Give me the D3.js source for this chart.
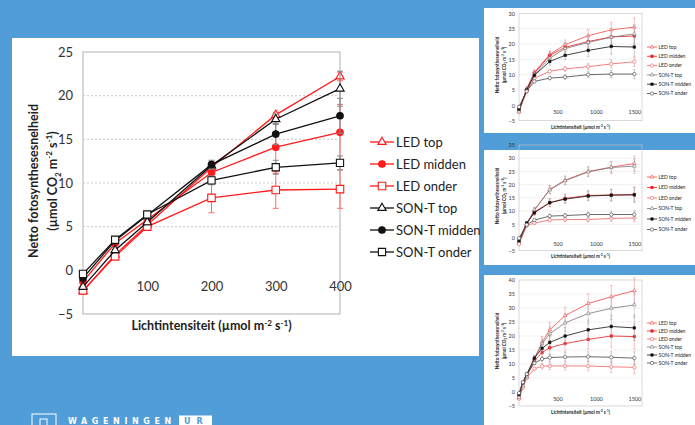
<!DOCTYPE html>
<html>
<head>
<meta charset="utf-8">
<script src="https://cdn.jsdelivr.net/npm/d3@7"></script>
<style>
  body { margin: 0; background: #509dd7; }
  svg { display: block; }
</style>
</head>
<body>
<svg id="slide" width="695" height="425"></svg>
<script>

const seriesNames = ["LED top", "LED midden", "LED onder", "SON-T top", "SON-T midden", "SON-T onder"];

// main chart (0 - 400)
const mainX = [0, 50, 100, 200, 300, 400];
const mainLedTop    = [-2.4, 1.8, 5.2, 11.8, 17.8, 22.2];
const mainLedMidden = [-1.3, 3.1, 5.8, 11.2, 14.1, 15.8];
const mainLedOnder  = [-2.3, 1.6, 5.0, 8.3, 9.2, 9.3];
const mainSonTop    = [-1.9, 2.3, 5.5, 12.0, 17.3, 20.8];
const mainSonMidden = [-0.9, 3.4, 6.3, 12.1, 15.6, 17.7];
const mainSonOnder  = [-0.4, 3.5, 6.4, 10.3, 11.8, 12.3];

const mainErrLedTop    = [0.2, 0.3, 0.3, 0.4, 0.3, 0.5];
const mainErrLedMidden = [0.3, 0.3, 0.4, 0.8, 3.0, 3.2];
const mainErrLedOnder  = [0.3, 0.3, 0.3, 1.7, 2.1, 2.2];
const mainErrSonTop    = [0.2, 0.3, 0.3, 0.4, 0.6, 2.0];
const mainErrSonMidden = [0.2, 0.3, 0.3, 0.5, 1.2, 2.0];
const mainErrSonOnder  = [0.2, 0.3, 0.3, 0.5, 0.8, 0.8];

const mainYTicks = [-5, 0, 5, 10, 15, 20, 25];
const mainXTicks = [100, 200, 300, 400];

// small chart 1
const smallX = [0, 100, 200, 400, 600, 900, 1200, 1500];
const s1LedTop    = [-2.0, 5.5, 10.8, 16.6, 19.8, 22.7, 24.6, 25.5];
const s1LedMidden = [-1.5, 5.0, 10.5, 16.3, 18.9, 20.8, 22.3, 22.6];
const s1LedOnder  = [-2.2, 4.5, 8.8, 11.1, 11.9, 12.6, 13.5, 14.2];
const s1SonTop    = [-1.8, 5.2, 10.0, 15.4, 18.5, 20.5, 22.2, 23.3];
const s1SonMidden = [-1.2, 5.0, 9.8, 14.3, 16.3, 17.9, 19.2, 19.0];
const s1SonOnder  = [-0.5, 4.6, 7.8, 8.9, 9.2, 10.0, 10.2, 10.2];
const s1Err       = [0.4, 0.5, 0.8, 1.2, 1.5, 2.0, 2.5, 3.0];

// small chart 2
const s2LedTop    = [-2.2, 4.8, 10.3, 18.2, 21.7, 25.0, 26.6, 28.0];
const s2LedMidden = [-1.8, 5.3, 9.7, 13.1, 14.8, 15.9, 16.1, 16.3];
const s2LedOnder  = [-2.5, 4.5, 5.5, 6.6, 6.8, 6.8, 7.2, 7.4];
const s2SonTop    = [-1.5, 5.0, 10.5, 18.0, 21.5, 24.8, 26.5, 27.0];
const s2SonMidden = [-1.2, 5.5, 9.3, 13.2, 14.5, 15.7, 16.0, 16.1];
const s2SonOnder  = [-0.3, 4.8, 6.6, 8.1, 8.3, 8.7, 8.7, 8.7];
const s2Err       = [0.4, 0.6, 1.0, 1.5, 1.6, 1.8, 2.2, 2.8];

// small chart 3
const s3X = [0, 50, 100, 200, 300, 400, 600, 900, 1200, 1500];
const s3LedTop    = [-2.4, 1.8, 5.2, 11.8, 17.8, 22.2, 27.3, 31.6, 34.0, 36.2];
const s3LedMidden = [-1.3, 3.1, 5.8, 11.2, 14.1, 15.8, 17.3, 18.8, 20.0, 19.8];
const s3LedOnder  = [-2.3, 1.6, 5.0, 8.3, 9.2, 9.3, 9.3, 9.3, 9.0, 8.8];
const s3SonTop    = [-1.9, 2.3, 5.5, 12.0, 17.3, 20.8, 24.7, 28.0, 29.9, 31.1];
const s3SonMidden = [-0.9, 3.4, 6.3, 12.1, 15.6, 17.7, 20.0, 22.2, 23.4, 22.9];
const s3SonOnder  = [-0.4, 3.5, 6.4, 10.3, 11.8, 12.3, 12.5, 12.6, 12.4, 12.1];
const s3Err       = [0.3, 0.4, 0.5, 1.0, 2.0, 2.5, 3.0, 3.5, 4.0, 4.5];

const smallXTicks = [500, 1000, 1500];

const svg = d3.select("#slide");
const font = "Lato, 'Open Sans', sans-serif";

svg.append("rect").attr("width", 695).attr("height", 425).attr("fill", "#509dd7");


const buildSeries = (lists, errs, styles) =>
  seriesNames.map((name, i) => ({ name, values: lists[i], errors: errs[i], style: styles[i] }));

const mainStyles = [
  { color: "#ff1a1a", bar: "#ff6b6b", symbol: d3.symbolTriangle, size: 30, fill: "white" },
  { color: "#ff1a1a", bar: "#ff6b6b", symbol: d3.symbolCircle, size: 34, fill: "#ff1a1a" },
  { color: "#ff1a1a", bar: "#ff6b6b", symbol: d3.symbolSquare, size: 56, fill: "white" },
  { color: "#111", bar: "#888", symbol: d3.symbolTriangle, size: 30, fill: "white" },
  { color: "#111", bar: "#888", symbol: d3.symbolCircle, size: 34, fill: "#111" },
  { color: "#111", bar: "#888", symbol: d3.symbolSquare, size: 52, fill: "white" }
];

const smallStyles = [
  { color: "#f04545", bar: "#f08080", symbol: d3.symbolTriangle, size: 6, fill: "white" },
  { color: "#e81e1e", bar: "#f08080", symbol: d3.symbolSquare, size: 6, fill: "#e81e1e" },
  { color: "#f06060", bar: "#f08080", symbol: d3.symbolCircle, size: 9, fill: "white" },
  { color: "#777", bar: "#aaa", symbol: d3.symbolTriangle, size: 6, fill: "white" },
  { color: "#111", bar: "#999", symbol: d3.symbolSquare, size: 6, fill: "#111" },
  { color: "#444", bar: "#999", symbol: d3.symbolCircle, size: 9, fill: "white" }
];


const drawChart = (g, cfg) => {
  const x = d3.scaleLinear().domain([0, cfg.xMax]).range([cfg.left, cfg.right]);
  const y = d3.scaleLinear().domain([cfg.yTicks[0], cfg.yTicks[cfg.yTicks.length - 1]]).range([cfg.bottom, cfg.top]);
  const fs = cfg.fontSize;

  // gridlines
  g.selectAll("line.grid")
    .data(cfg.yTicks.filter((t) => t > cfg.yTicks[0] && t < cfg.yTicks[cfg.yTicks.length - 1] && t !== 0))
    .enter()
    .append("line")
      .attr("class", "grid")
      .attr("x1", cfg.left).attr("x2", cfg.right)
      .attr("y1", (d) => y(d)).attr("y2", (d) => y(d))
      .style("stroke", "#c8c8c8")
      .style("stroke-width", cfg.gridWidth)
      .style("stroke-dasharray", cfg.dash);

  // plot border
  g.append("rect")
    .attr("x", cfg.left).attr("y", cfg.top)
    .attr("width", cfg.right - cfg.left).attr("height", cfg.bottom - cfg.top)
    .attr("fill", "none")
    .style("stroke", "#c4c4c4")
    .style("stroke-width", cfg.gridWidth * 1.3);

  // y tick labels
  const yAxis = d3.axisLeft(y).tickValues(cfg.yTicks).tickFormat(d3.format("d")).tickSize(0).tickPadding(cfg.yPad);
  const ya = g.append("g").attr("transform", `translate(${cfg.left},0)`).call(yAxis);
  ya.select(".domain").remove();
  ya.selectAll("text").style("font-family", font).style("font-size", fs + "px").attr("fill", "#333");

  // x tick labels, sitting under the zero line
  const xAxis = d3.axisBottom(x).tickValues(cfg.xTicks).tickFormat(d3.format("d")).tickSize(0).tickPadding(cfg.xPad);
  const xa = g.append("g").attr("transform", `translate(0,${y(0)})`).call(xAxis);
  xa.select(".domain").remove();
  xa.selectAll("text").style("font-family", font).style("font-size", fs + "px").attr("fill", "#333");

  // titles
  g.append("text")
    .attr("x", (cfg.left + cfg.right) / 2).attr("y", cfg.xTitleY)
    .attr("text-anchor", "middle")
    .style("font-family", font).style("font-size", cfg.titleSize + "px").style("font-weight", "700")
    .attr("fill", "#222")
    .html(`Lichtintensiteit (µmol m<tspan dy="${-cfg.titleSize * 0.35}" font-size="${cfg.titleSize * 0.65}">-2</tspan><tspan dy="${cfg.titleSize * 0.35}"> s</tspan><tspan dy="${-cfg.titleSize * 0.35}" font-size="${cfg.titleSize * 0.65}">-1</tspan><tspan dy="${cfg.titleSize * 0.35}">)</tspan>`);

  const yt = g.append("text")
    .attr("transform", `translate(${cfg.yTitleX},${(cfg.top + cfg.bottom) / 2 + cfg.yTitleShift}) rotate(-90)`)
    .attr("text-anchor", "middle")
    .style("font-family", font).style("font-size", cfg.titleSize + "px").style("font-weight", "700")
    .attr("fill", "#222");
  yt.append("tspan").attr("x", 0).attr("dy", 0).text("Netto fotosynthesesnelheid");
  const sub = cfg.titleSize * 0.65;
  yt.append("tspan").attr("x", 0).attr("dy", cfg.titleSize * 1.5).text("(µmol CO");
  yt.append("tspan").attr("dy", cfg.titleSize * 0.3).attr("font-size", sub).text("2");
  yt.append("tspan").attr("dy", -cfg.titleSize * 0.3).text(" m");
  yt.append("tspan").attr("dy", -cfg.titleSize * 0.35).attr("font-size", sub).text("-2");
  yt.append("tspan").attr("dy", cfg.titleSize * 0.35).text(" s");
  yt.append("tspan").attr("dy", -cfg.titleSize * 0.35).attr("font-size", sub).text("-1");
  yt.append("tspan").attr("dy", cfg.titleSize * 0.35).text(")");

  const line = d3.line().x((d) => x(d.x)).y((d) => y(d.v));

  const sg = g.selectAll("g.series")
    .data(cfg.series)
    .enter()
    .append("g")
      .attr("class", "series");

  // error bars
  sg.each(function (s) {
    const pts = cfg.xs.map((xv, i) => ({ x: xv, v: s.values[i], e: s.errors[i] }));
    const eb = d3.select(this).selectAll("g.err").data(pts).enter().append("g").attr("class", "err");
    eb.append("line")
      .attr("x1", (d) => x(d.x)).attr("x2", (d) => x(d.x))
      .attr("y1", (d) => y(d.v - d.e)).attr("y2", (d) => y(d.v + d.e))
      .style("stroke", s.style.bar).style("stroke-width", cfg.barWidth);
    [-1, 1].forEach((sgn) => {
      eb.append("line")
        .attr("x1", (d) => x(d.x) - cfg.cap).attr("x2", (d) => x(d.x) + cfg.cap)
        .attr("y1", (d) => y(d.v + sgn * d.e)).attr("y2", (d) => y(d.v + sgn * d.e))
        .style("stroke", s.style.bar).style("stroke-width", cfg.barWidth);
    });
  });

  sg.append("path")
    .attr("d", (s) => line(cfg.xs.map((xv, i) => ({ x: xv, v: s.values[i] }))))
    .attr("fill", "none")
    .style("stroke", (s) => s.style.color)
    .style("stroke-width", cfg.lineWidth);

  sg.each(function (s) {
    d3.select(this).selectAll("path.mark")
      .data(cfg.xs.map((xv, i) => ({ x: xv, v: s.values[i] })))
      .enter()
      .append("path")
        .attr("class", "mark")
        .attr("d", d3.symbol().type(s.style.symbol).size(s.style.size * cfg.markScale))
        .attr("transform", (d) => `translate(${x(d.x)},${y(d.v)})`)
        .attr("fill", s.style.fill)
        .style("stroke", s.style.color)
        .style("stroke-width", cfg.markStroke);
  });

  // legend
  const lg = g.selectAll("g.legend")
    .data(cfg.series)
    .enter()
    .append("g")
      .attr("class", "legend")
      .attr("transform", (d, i) => `translate(${cfg.legendX},${cfg.legendY + i * cfg.legendDy})`);
  lg.append("line")
    .attr("x1", 0).attr("x2", cfg.legendLen)
    .style("stroke", (d) => d.style.color).style("stroke-width", cfg.lineWidth);
  lg.append("path")
    .attr("d", (d) => d3.symbol().type(d.style.symbol).size(d.style.size * cfg.markScale)())
    .attr("transform", `translate(${cfg.legendLen / 2},0)`)
    .attr("fill", (d) => d.style.fill)
    .style("stroke", (d) => d.style.color)
    .style("stroke-width", cfg.markStroke);
  lg.append("text")
    .attr("x", cfg.legendLen + cfg.legendGap).attr("dy", "0.35em")
    .style("font-family", font).style("font-size", cfg.legendSize + "px")
    .attr("fill", "#222")
    .text((d) => d.name);
}


// main panel
svg.append("rect").attr("x", 12).attr("y", 38).attr("width", 467).attr("height", 318).attr("fill", "white");

drawChart(svg.append("g"), {
  left: 83, right: 340, top: 52, bottom: 314,
  xMax: 400, xs: mainX, xTicks: mainXTicks, yTicks: mainYTicks,
  fontSize: 13, titleSize: 12.5, yPad: 10, xPad: 11,
  xTitleY: 330, yTitleX: 38, yTitleShift: -2,
  gridWidth: 1, dash: "2,2", lineWidth: 1.3, barWidth: 1, cap: 3,
  markScale: 1, markStroke: 1.1,
  legendX: 370, legendY: 142, legendDy: 22, legendLen: 24, legendGap: 2, legendSize: 13,
  series: buildSeries(
    [mainLedTop, mainLedMidden, mainLedOnder, mainSonTop, mainSonMidden, mainSonOnder],
    [mainErrLedTop, mainErrLedMidden, mainErrLedOnder, mainErrSonTop, mainErrSonMidden, mainErrSonOnder],
    mainStyles)
});

// small panels
const smallPanels = [
  { y0: 8, h: 125, top: 13.3, bottom: 120.7, yTicks: [-5, 0, 5, 10, 15, 20, 25, 30], xs: smallX,
    data: [s1LedTop, s1LedMidden, s1LedOnder, s1SonTop, s1SonMidden, s1SonOnder], err: s1Err,
    xTitleY: 129, legendY: 47, legendDy: 9.3 },
  { y0: 150, h: 115, top: 145, bottom: 250.7, yTicks: [-5, 0, 5, 10, 15, 20, 25, 30, 35], xs: smallX,
    data: [s2LedTop, s2LedMidden, s2LedOnder, s2SonTop, s2SonMidden, s2SonOnder], err: s2Err,
    xTitleY: 258, legendY: 177, legendDy: 10.5 },
  { y0: 275, h: 150, top: 280, bottom: 406, yTicks: [-5, 0, 5, 10, 15, 20, 25, 30, 35, 40], xs: s3X,
    data: [s3LedTop, s3LedMidden, s3LedOnder, s3SonTop, s3SonMidden, s3SonOnder], err: s3Err,
    xTitleY: 413.5, legendY: 323, legendDy: 8 }
];

smallPanels.forEach((p) => {
  svg.append("rect").attr("x", 484).attr("y", p.y0).attr("width", 211).attr("height", p.h).attr("fill", "white");
  const errs = seriesNames.map((n, i) => p.err.map((e) => e * (i === 2 || i === 5 ? 0.5 : 1)));
  drawChart(svg.append("g"), {
    left: 519, right: 642, top: p.top, bottom: p.bottom,
    xMax: 1600, xs: p.xs, xTicks: smallXTicks, yTicks: p.yTicks,
    fontSize: 5.5, titleSize: 4.6, yPad: 4, xPad: 5,
    xTitleY: p.xTitleY, yTitleX: 499, yTitleShift: -2,
    gridWidth: 0.5, dash: "1,1", lineWidth: 0.8, barWidth: 0.5, cap: 1.2,
    markScale: 1, markStroke: 0.6,
    legendX: 647, legendY: p.legendY, legendDy: p.legendDy, legendLen: 10, legendGap: 1.5, legendSize: 5,
    series: buildSeries(p.data, errs, smallStyles)
  });
});

// logo
const logo = svg.append("g").attr("transform", "translate(32,414)");
logo.append("rect").attr("width", 24).attr("height", 16).attr("fill", "none").style("stroke", "white").style("stroke-width", 1);
logo.append("rect").attr("x", 8).attr("y", 5).attr("width", 7).attr("height", 7).attr("fill", "none").style("stroke", "white").style("stroke-width", 1);
logo.append("text")
  .attr("x", 36).attr("y", 10)
  .style("font-family", "'DejaVu Sans', sans-serif").style("font-size", "8px").style("font-weight", "700")
  .style("letter-spacing", "4.6px")
  .attr("fill", "white")
  .text("WAGENINGEN");
logo.append("rect").attr("x", 147).attr("y", 1.5).attr("width", 33).attr("height", 10).attr("fill", "white");
logo.append("text")
  .attr("x", 152).attr("y", 10)
  .style("font-family", "'DejaVu Sans', sans-serif").style("font-size", "8px").style("font-weight", "700")
  .style("letter-spacing", "6px")
  .attr("fill", "#509dd7")
  .text("UR");

</script>
</body>
</html>
